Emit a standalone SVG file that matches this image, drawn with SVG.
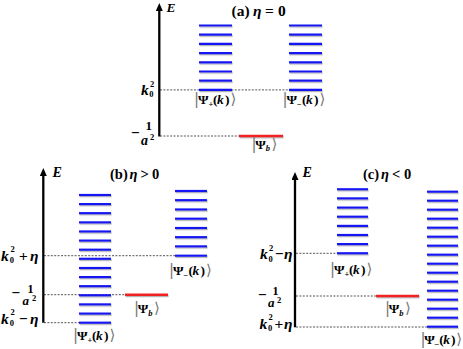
<svg xmlns="http://www.w3.org/2000/svg" width="463" height="349" viewBox="0 0 463 349">
<defs>
<style>
.bg{fill:#fff}
.axis{stroke:#000;stroke-width:2.3;fill:none;marker-end:url(#arr)}
.lv line{stroke:#1414f5;stroke-width:2.2}
.bd{stroke:#f02020;stroke-width:2.6}
.dash{stroke:#555;stroke-width:1;stroke-dasharray:2 1.4;fill:none}
.t{font-family:"Liberation Serif","Times New Roman",serif;font-weight:bold;fill:#000}
.it{font-style:italic}
.sm{font-size:8.5px}
.br{font-family:"DejaVu Sans",sans-serif;font-weight:normal;fill:#777;font-size:15px}
.ket{font-size:13.5px}
.lbl{font-size:15.5px}
.ttl{font-size:14.5px}
</style>
<marker id="arr" viewBox="0 0 8 7" refX="1" refY="3.5" markerWidth="8" markerHeight="7" markerUnits="userSpaceOnUse" orient="auto">
<path d="M0,0 L8,3.5 L0,7 z" fill="#000"/>
</marker>
<filter id="sh" filterUnits="userSpaceOnUse" x="0" y="0" width="463" height="349">
<feDropShadow dx="0.6" dy="1.2" stdDeviation="0.5" flood-color="#777" flood-opacity="0.55"/>
</filter>
</defs>
<rect class="bg" x="0" y="0" width="463" height="349"/>

<g id="connectors">
<line class="dash" x1="160" y1="89.9" x2="322" y2="89.9"/>
<line class="dash" x1="160" y1="136" x2="239" y2="136"/>
<line class="dash" x1="44" y1="255.7" x2="207" y2="255.7"/>
<line class="dash" x1="44" y1="294.7" x2="125" y2="294.7"/>
<line class="dash" x1="44" y1="322.7" x2="111" y2="322.7"/>
<line class="dash" x1="296" y1="253.3" x2="368" y2="253.3"/>
<line class="dash" x1="296" y1="296" x2="376" y2="296"/>
<line class="dash" x1="296" y1="327" x2="458" y2="327"/>
</g>

<!-- Panel (a) -->
<g id="axis-a">
<line class="axis" x1="159.3" y1="136.5" x2="159.3" y2="10"/>
<text class="t it" x="166.5" y="12" font-size="13.5">E</text>
<text class="t lbl" y="95"><tspan class="it" x="141">k</tspan><tspan class="sm" x="149.3" y="97">0</tspan><tspan class="sm" x="150" y="87">2</tspan></text>
<text class="t lbl"><tspan x="131" y="137.5">−</tspan><tspan x="145.5" y="129.5" font-size="13">1</tspan><tspan class="it" x="141" y="144.5" font-size="14">a</tspan><tspan class="sm" x="150" y="139.5">2</tspan></text>
</g>
<g id="title-a"><text class="t" font-size="15.5" y="15.5"><tspan x="231.5">(a)</tspan><tspan class="it" x="253">η</tspan><tspan x="265">=</tspan><tspan x="278">0</tspan></text></g>
<g id="psi-plus-a">
<g class="lv" filter="url(#sh)">
<line x1="199" y1="25.5" x2="232" y2="25.5"/><line x1="199" y1="34.7" x2="232" y2="34.7"/><line x1="199" y1="43.9" x2="232" y2="43.9"/><line x1="199" y1="53.1" x2="232" y2="53.1"/><line x1="199" y1="62.3" x2="232" y2="62.3"/><line x1="199" y1="71.5" x2="232" y2="71.5"/><line x1="199" y1="80.7" x2="232" y2="80.7"/><line x1="199" y1="89.9" x2="232" y2="89.9"/>
</g>
<text class="t ket" y="104"><tspan class="br" x="194">|</tspan><tspan x="198">Ψ</tspan><tspan class="sm" x="208.5" y="106.5">+</tspan><tspan x="213" y="104">(</tspan><tspan class="it" x="217">k</tspan><tspan x="225">)</tspan><tspan class="br" x="230.5">⟩</tspan></text>
</g>
<g id="psi-minus-a">
<g class="lv" filter="url(#sh)">
<line x1="289" y1="25.5" x2="322" y2="25.5"/><line x1="289" y1="34.7" x2="322" y2="34.7"/><line x1="289" y1="43.9" x2="322" y2="43.9"/><line x1="289" y1="53.1" x2="322" y2="53.1"/><line x1="289" y1="62.3" x2="322" y2="62.3"/><line x1="289" y1="71.5" x2="322" y2="71.5"/><line x1="289" y1="80.7" x2="322" y2="80.7"/><line x1="289" y1="89.9" x2="322" y2="89.9"/>
</g>
<text class="t ket" y="104"><tspan class="br" x="282.5">|</tspan><tspan x="286.5">Ψ</tspan><tspan class="sm" x="297" y="106.5">−</tspan><tspan x="302" y="104">(</tspan><tspan class="it" x="306">k</tspan><tspan x="314">)</tspan><tspan class="br" x="319.5">⟩</tspan></text>
</g>
<g id="psi-b-a">
<line class="bd" x1="239" y1="136" x2="283" y2="136" filter="url(#sh)"/>
<text class="t ket" y="148.5"><tspan class="br" x="251.5">|</tspan><tspan x="255.3">Ψ</tspan><tspan class="sm it" x="265.8" y="151">b</tspan><tspan class="br" x="271.5" y="148.5">⟩</tspan></text>
</g>

<!-- Panel (b) -->
<g id="axis-b">
<line class="axis" x1="43.3" y1="322.7" x2="43.3" y2="175"/>
<text class="t it" x="52.5" y="177.3" font-size="14">E</text>
<text class="t lbl" y="260.7"><tspan class="it" x="1">k</tspan><tspan class="sm" x="9.8" y="263.3">0</tspan><tspan class="sm" x="10.5" y="252">2</tspan><tspan x="19" y="260.7">+</tspan><tspan class="it" x="30">η</tspan></text>
<text class="t lbl"><tspan x="11.5" y="298">−</tspan><tspan x="27.5" y="292.8" font-size="12">1</tspan><tspan class="it" x="22.5" y="305.3" font-size="13">a</tspan><tspan class="sm" x="32" y="301">2</tspan></text>
<text class="t lbl" y="323.5"><tspan class="it" x="1">k</tspan><tspan class="sm" x="9.8" y="326">0</tspan><tspan class="sm" x="10.5" y="314.8">2</tspan><tspan x="19" y="323.5">−</tspan><tspan class="it" x="30">η</tspan></text>
</g>
<g id="title-b"><text class="t ttl" y="178.5"><tspan x="110">(b)</tspan><tspan class="it" x="129.5">η</tspan><tspan x="140.5">&gt;</tspan><tspan x="152">0</tspan></text></g>
<g id="psi-plus-b">
<g class="lv" filter="url(#sh)">
<line x1="79" y1="195" x2="111" y2="195"/><line x1="79" y1="204.1" x2="111" y2="204.1"/><line x1="79" y1="213.2" x2="111" y2="213.2"/><line x1="79" y1="222.4" x2="111" y2="222.4"/><line x1="79" y1="231.5" x2="111" y2="231.5"/><line x1="79" y1="240.6" x2="111" y2="240.6"/><line x1="79" y1="249.7" x2="111" y2="249.7"/><line x1="79" y1="258.8" x2="111" y2="258.8"/><line x1="79" y1="268" x2="111" y2="268"/><line x1="79" y1="277.1" x2="111" y2="277.1"/><line x1="79" y1="286.2" x2="111" y2="286.2"/><line x1="79" y1="295.3" x2="111" y2="295.3"/><line x1="79" y1="304.4" x2="111" y2="304.4"/><line x1="79" y1="313.6" x2="111" y2="313.6"/><line x1="79" y1="322.7" x2="111" y2="322.7"/>
</g>
<text class="t ket" y="340"><tspan class="br" x="73">|</tspan><tspan x="77">Ψ</tspan><tspan class="sm" x="87.5" y="342.5">+</tspan><tspan x="92" y="340">(</tspan><tspan class="it" x="96">k</tspan><tspan x="104">)</tspan><tspan class="br" x="109.5">⟩</tspan></text>
</g>
<g id="psi-minus-b">
<g class="lv" filter="url(#sh)">
<line x1="175" y1="191" x2="207" y2="191"/><line x1="175" y1="200.2" x2="207" y2="200.2"/><line x1="175" y1="209.5" x2="207" y2="209.5"/><line x1="175" y1="218.7" x2="207" y2="218.7"/><line x1="175" y1="228" x2="207" y2="228"/><line x1="175" y1="237.2" x2="207" y2="237.2"/><line x1="175" y1="246.4" x2="207" y2="246.4"/><line x1="175" y1="255.7" x2="207" y2="255.7"/>
</g>
<text class="t ket" y="275"><tspan class="br" x="169">|</tspan><tspan x="173">Ψ</tspan><tspan class="sm" x="183.5" y="277.5">−</tspan><tspan x="188.5" y="275">(</tspan><tspan class="it" x="192.5">k</tspan><tspan x="200.5">)</tspan><tspan class="br" x="206">⟩</tspan></text>
</g>
<g id="psi-b-b">
<line class="bd" x1="125" y1="294.7" x2="168" y2="294.7" filter="url(#sh)"/>
<text class="t ket" y="313.3"><tspan class="br" x="134">|</tspan><tspan x="137.8">Ψ</tspan><tspan class="sm it" x="148.3" y="315.8">b</tspan><tspan class="br" x="154" y="313.3">⟩</tspan></text>
</g>

<!-- Panel (c) -->
<g id="axis-c">
<line class="axis" x1="295" y1="327.3" x2="295" y2="179"/>
<text class="t it" x="302.5" y="177.3" font-size="14">E</text>
<text class="t lbl" y="259"><tspan class="it" x="260">k</tspan><tspan class="sm" x="268.5" y="261.5">0</tspan><tspan class="sm" x="269" y="250.5">2</tspan><tspan x="275" y="259">−</tspan><tspan class="it" x="284">η</tspan></text>
<text class="t lbl"><tspan x="258" y="300">−</tspan><tspan x="272.5" y="294.5" font-size="12">1</tspan><tspan class="it" x="268" y="307" font-size="13">a</tspan><tspan class="sm" x="277" y="302.5">2</tspan></text>
<text class="t lbl" y="328.5"><tspan class="it" x="259.5">k</tspan><tspan class="sm" x="268" y="331">0</tspan><tspan class="sm" x="268.5" y="319.8">2</tspan><tspan x="274.5" y="328.5">+</tspan><tspan class="it" x="284">η</tspan></text>
</g>
<g id="title-c"><text class="t ttl" y="179"><tspan x="363">(c)</tspan><tspan class="it" x="381">η</tspan><tspan x="392">&lt;</tspan><tspan x="404">0</tspan></text></g>
<g id="psi-plus-c">
<g class="lv" filter="url(#sh)">
<line x1="337" y1="189.3" x2="368" y2="189.3"/><line x1="337" y1="198.4" x2="368" y2="198.4"/><line x1="337" y1="207.6" x2="368" y2="207.6"/><line x1="337" y1="216.7" x2="368" y2="216.7"/><line x1="337" y1="225.9" x2="368" y2="225.9"/><line x1="337" y1="235" x2="368" y2="235"/><line x1="337" y1="244.1" x2="368" y2="244.1"/><line x1="337" y1="253.3" x2="368" y2="253.3"/>
</g>
<text class="t ket" y="274"><tspan class="br" x="330">|</tspan><tspan x="334">Ψ</tspan><tspan class="sm" x="344.5" y="276.5">+</tspan><tspan x="349" y="274">(</tspan><tspan class="it" x="353">k</tspan><tspan x="361">)</tspan><tspan class="br" x="366.5">⟩</tspan></text>
</g>
<g id="psi-minus-c">
<g class="lv" filter="url(#sh)">
<line x1="427" y1="191.7" x2="458" y2="191.7"/><line x1="427" y1="200.7" x2="458" y2="200.7"/><line x1="427" y1="209.7" x2="458" y2="209.7"/><line x1="427" y1="218.7" x2="458" y2="218.7"/><line x1="427" y1="227.7" x2="458" y2="227.7"/><line x1="427" y1="236.7" x2="458" y2="236.7"/><line x1="427" y1="245.7" x2="458" y2="245.7"/><line x1="427" y1="254.7" x2="458" y2="254.7"/><line x1="427" y1="263.7" x2="458" y2="263.7"/><line x1="427" y1="272.7" x2="458" y2="272.7"/><line x1="427" y1="281.7" x2="458" y2="281.7"/><line x1="427" y1="290.7" x2="458" y2="290.7"/><line x1="427" y1="299.7" x2="458" y2="299.7"/><line x1="427" y1="308.7" x2="458" y2="308.7"/><line x1="427" y1="317.7" x2="458" y2="317.7"/><line x1="427" y1="326.7" x2="458" y2="326.7"/>
</g>
<text class="t ket" y="344"><tspan class="br" x="420.5">|</tspan><tspan x="424.3">Ψ</tspan><tspan class="sm" x="434.5" y="346.5">−</tspan><tspan x="439.3" y="344">(</tspan><tspan class="it" x="443.2">k</tspan><tspan x="451">)</tspan><tspan class="br" x="456.3">⟩</tspan></text>
</g>
<g id="psi-b-c">
<line class="bd" x1="376" y1="296" x2="419" y2="296" filter="url(#sh)"/>
<text class="t ket" y="313.3"><tspan class="br" x="385">|</tspan><tspan x="388.8">Ψ</tspan><tspan class="sm it" x="399.3" y="315.8">b</tspan><tspan class="br" x="405" y="313.3">⟩</tspan></text>
</g>
</svg>
